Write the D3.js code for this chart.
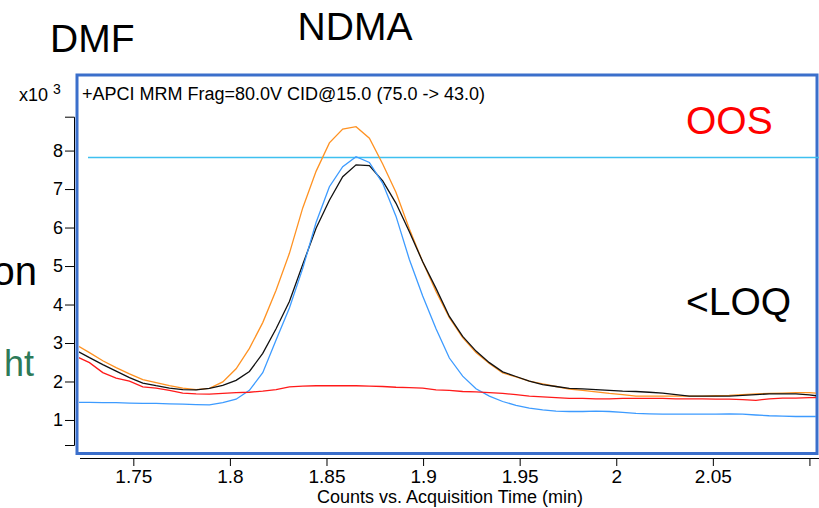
<!DOCTYPE html>
<html>
<head>
<meta charset="utf-8">
<script src="https://cdn.jsdelivr.net/npm/d3@7"></script>
<style>
  body { margin: 0; background: #fff; }
  svg { display: block; font-family: "Liberation Sans", Arial, sans-serif; }
</style>
</head>
<body>
<div id="canvas"></div>
<script>
// Acquisition time (min) of each sample
var times = [1.7204, 1.7273, 1.7342, 1.7411, 1.7480, 1.7549, 1.7618, 1.7687, 1.7756, 1.7825,
  1.7894, 1.7963, 1.8032, 1.8101, 1.8170, 1.8239, 1.8308, 1.8377, 1.8446, 1.8515,
  1.8584, 1.8653, 1.8722, 1.8791, 1.8860, 1.8929, 1.8998, 1.9067, 1.9136, 1.9205,
  1.9274, 1.9343, 1.9412, 1.9481, 1.9550, 1.9619, 1.9688, 1.9757, 1.9826, 1.9895,
  1.9964, 2.0033, 2.0102, 2.0171, 2.0240, 2.0309, 2.0378, 2.0447, 2.0516, 2.0585,
  2.0654, 2.0723, 2.0792, 2.0861, 2.0930, 2.0999, 2.1068];

// Counts (x10^3) for each trace
var orangeCounts = [2.95, 2.75, 2.54, 2.36, 2.20, 2.05, 1.97, 1.89, 1.83, 1.79,
  1.82, 1.99, 2.33, 2.86, 3.53, 4.37, 5.33, 6.51, 7.46, 8.20,
  8.56, 8.62, 8.32, 7.65, 6.91, 5.96, 5.11, 4.34, 3.66, 3.14,
  2.75, 2.47, 2.22, 2.12, 2.01, 1.94, 1.87, 1.80, 1.77, 1.73,
  1.69, 1.66, 1.62, 1.62, 1.62, 1.62, 1.62, 1.62, 1.63, 1.64,
  1.66, 1.68, 1.69, 1.70, 1.71, 1.71, 1.69];

var blackCounts = [2.81, 2.62, 2.44, 2.27, 2.10, 1.96, 1.89, 1.83, 1.79, 1.78,
  1.82, 1.90, 2.03, 2.26, 2.73, 3.37, 4.08, 5.04, 5.98, 6.71,
  7.32, 7.63, 7.61, 7.21, 6.63, 5.89, 5.11, 4.42, 3.69, 3.17,
  2.79, 2.49, 2.25, 2.13, 2.01, 1.92, 1.87, 1.82, 1.81, 1.79,
  1.77, 1.75, 1.74, 1.72, 1.70, 1.66, 1.62, 1.62, 1.62, 1.62,
  1.64, 1.66, 1.68, 1.68, 1.68, 1.65, 1.61];

var blueCounts = [1.46, 1.46, 1.45, 1.45, 1.44, 1.43, 1.43, 1.42, 1.41, 1.40,
  1.39, 1.45, 1.54, 1.77, 2.23, 3.08, 3.91, 4.94, 6.13, 7.06,
  7.58, 7.84, 7.69, 7.15, 6.29, 5.17, 4.22, 3.37, 2.61, 2.14,
  1.81, 1.62, 1.48, 1.38, 1.31, 1.26, 1.23, 1.22, 1.22, 1.23,
  1.22, 1.20, 1.17, 1.16, 1.15, 1.15, 1.15, 1.15, 1.15, 1.16,
  1.15, 1.13, 1.11, 1.10, 1.09, 1.09, 1.09];

var redCounts = [2.65, 2.49, 2.23, 2.09, 2.01, 1.86, 1.83, 1.77, 1.70, 1.68,
  1.67, 1.69, 1.71, 1.72, 1.75, 1.79, 1.86, 1.88, 1.89, 1.89,
  1.89, 1.89, 1.88, 1.87, 1.85, 1.84, 1.83, 1.78, 1.77, 1.74,
  1.73, 1.71, 1.69, 1.66, 1.62, 1.60, 1.58, 1.56, 1.56, 1.55,
  1.55, 1.56, 1.56, 1.56, 1.56, 1.55, 1.55, 1.55, 1.54, 1.54,
  1.53, 1.51, 1.55, 1.57, 1.57, 1.58, 1.58];

// Horizontal limit line (x10^3)
var limitLevel = 7.82;

var yTicks = [1, 2, 3, 4, 5, 6, 7, 8];
var xTicks = [1.75, 1.8, 1.85, 1.9, 1.95, 2, 2.05, 2.1];
var xTickLabels = ["1.75", "1.8", "1.85", "1.9", "1.95", "2", "2.05", ""];

var traces = [
  { name: "orange", values: orangeCounts, color: "#ff9222" },
  { name: "black", values: blackCounts, color: "#111111" },
  { name: "blue", values: blueCounts, color: "#3d9bff" },
  { name: "red", values: redCounts, color: "#ff1a1a" }
];

var width = 819,
  height = 508;

var SVG = d3.select("#canvas")
  .append("svg")
  .attr("width", width)
  .attr("height", height);

// Scales
var x = d3.scaleLinear()
  .domain([1.7224, 2.1034])
  .range([80, 816]);

var y = d3.scaleLinear()
  .domain([0.35, 8.88])
  .range([445, 116.7]);

// Blue frame around the plot
SVG.append("rect")
  .attr("x", 77)
  .attr("y", 75)
  .attr("width", 740)
  .attr("height", 378.5)
  .attr("fill", "none")
  .attr("stroke", "#3b6fcb")
  .attr("stroke-width", 3);

// Clip for the traces
SVG.append("clipPath")
  .attr("id", "plotClip")
  .append("rect")
  .attr("x", 79)
  .attr("y", 77)
  .attr("width", 737)
  .attr("height", 374);

// Y axis
var yAxis = SVG.append("g")
  .attr("transform", "translate(74,0)")
  .call(d3.axisLeft(y)
    .tickValues(yTicks)
    .tickSize(9)
    .tickPadding(2)
    .tickFormat(d3.format("d")));

yAxis.selectAll("text")
  .attr("font-size", 18)
  .attr("font-family", "Liberation Sans, Arial, sans-serif")
  .attr("fill", "#000");
yAxis.selectAll("line, path").attr("stroke", "#000");

// X axis
var xAxis = SVG.append("g")
  .attr("transform", "translate(0,458)")
  .call(d3.axisBottom(x)
    .tickValues(xTicks)
    .tickSize(8)
    .tickPadding(4)
    .tickFormat(function (d, i) { return xTickLabels[i]; }));

xAxis.select(".domain")
  .attr("d", "M80,0.5H819");
xAxis.selectAll("text")
  .attr("font-size", 19)
  .attr("font-family", "Liberation Sans, Arial, sans-serif")
  .attr("fill", "#000");
xAxis.selectAll("line, path").attr("stroke", "#000");

SVG.append("text")
  .attr("x", 450)
  .attr("y", 503)
  .attr("text-anchor", "middle")
  .attr("font-size", 18)
  .text("Counts vs. Acquisition Time (min)");

// Scale exponent label
var expLabel = SVG.append("text")
  .attr("x", 19)
  .attr("y", 101)
  .attr("font-size", 18);
expLabel.append("tspan").text("x10 ");
expLabel.append("tspan")
  .attr("font-size", 14)
  .attr("dy", -7)
  .text("3");

// Plot header
SVG.append("text")
  .attr("x", 82)
  .attr("y", 100)
  .attr("font-size", 18)
  .text("+APCI MRM Frag=80.0V CID@15.0 (75.0 -> 43.0)");

// Limit line
SVG.append("line")
  .attr("x1", 88)
  .attr("x2", 819)
  .attr("y1", y(limitLevel))
  .attr("y2", y(limitLevel))
  .attr("stroke", "#3ec0f0")
  .attr("stroke-width", 1.5);

// Traces
var line = d3.line()
  .x(function (d, i) { return x(times[i]); })
  .y(function (d) { return y(d); });

SVG.append("g")
  .attr("clip-path", "url(#plotClip)")
  .selectAll("path")
  .data(traces)
  .enter()
  .append("path")
  .attr("d", function (d) { return line(d.values); })
  .attr("fill", "none")
  .attr("stroke", function (d) { return d.color; })
  .attr("stroke-width", 1.3);

// Slide annotations
SVG.append("text")
  .attr("x", 50)
  .attr("y", 52)
  .attr("font-size", 39)
  .text("DMF");

SVG.append("text")
  .attr("x", 355)
  .attr("y", 40)
  .attr("text-anchor", "middle")
  .attr("font-size", 39)
  .text("NDMA");

SVG.append("text")
  .attr("x", 37)
  .attr("y", 285)
  .attr("text-anchor", "end")
  .attr("font-size", 40)
  .text("on");

SVG.append("text")
  .attr("x", 34)
  .attr("y", 376)
  .attr("text-anchor", "end")
  .attr("font-size", 36)
  .attr("fill", "#2d7a58")
  .text("ht");

SVG.append("text")
  .attr("x", 686)
  .attr("y", 134)
  .attr("font-size", 39)
  .attr("fill", "#ff0000")
  .text("OOS");

SVG.append("text")
  .attr("x", 686)
  .attr("y", 315)
  .attr("font-size", 39)
  .text("<LOQ");
</script>
</body>
</html>
